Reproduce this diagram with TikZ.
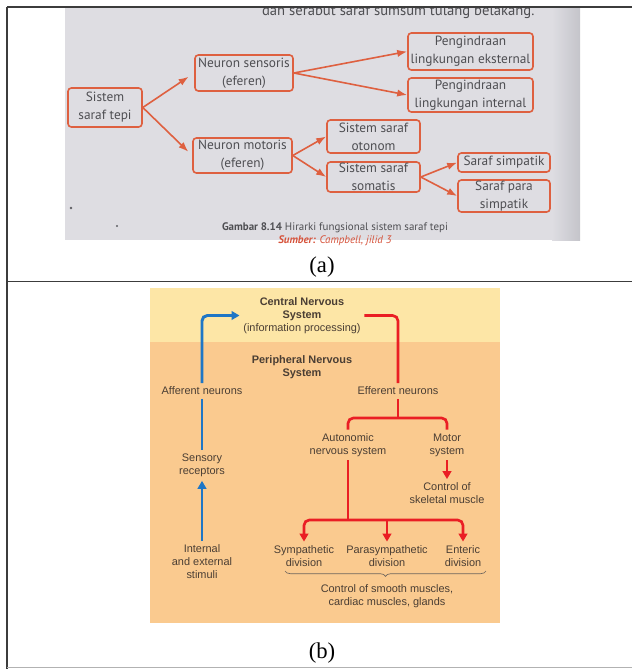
\documentclass[tikz,border=0pt]{standalone}
\usepackage{fontspec}
\setmainfont{Liberation Serif}
\newfontfamily\bookfont{PT Sans}
\newfontfamily\figfont{Liberation Sans}
\usetikzlibrary{arrows.meta,decorations.pathreplacing}

\definecolor{tableline}{RGB}{60,60,60}
\definecolor{bookgray}{RGB}{222,221,226}
\definecolor{bookedge}{RGB}{196,196,202}
\definecolor{bookdot}{RGB}{95,95,100}
\definecolor{booktext}{RGB}{78,78,82}
\definecolor{boxline}{RGB}{222,96,64}
\definecolor{bookred}{RGB}{214,82,58}
\definecolor{cnsyellow}{RGB}{253,230,166}
\definecolor{pnsorange}{RGB}{250,202,143}
\definecolor{figtext}{RGB}{74,62,52}
\definecolor{affblue}{RGB}{30,118,198}
\definecolor{effred}{RGB}{234,30,36}

\tikzset{every picture/.style={line width=0.75pt}}
\tikzset{
  bookbox/.style={draw=boxline, line width=1.2pt, rounded corners=2.5pt, align=center,
    font=\bookfont\fontsize{10}{13.5}\selectfont, text=booktext, inner sep=0pt},
  bookarrow/.style={draw=boxline, line width=1.2pt, -{Latex[length=7.5pt,width=5.5pt]}},
  figlabel/.style={align=center, font=\figfont\fontsize{8.2}{9.8}\selectfont, text=figtext, inner sep=2.5pt},
  blueline/.style={draw=affblue, line width=2.2pt, rounded corners=4pt},
  redline/.style={draw=effred, line width=2pt, rounded corners=4pt},
  figtip/.style={-{Triangle[length=6pt,width=6.5pt]}},
  panel/.style={font=\fontsize{17}{20}\selectfont, inner sep=0pt}
}

\begin{document}
\begin{tikzpicture}[x=0.75pt,y=0.75pt,yscale=-1,xscale=1]
\useasboundingbox (0,0) rectangle (632,669);

%Shape: Rectangle [photo of the book page]
\fill[bookgray] (65,8) rectangle (580,240);
\shade[left color=bookgray, right color=bookedge] (552,8) rectangle (580,240);
\fill[bookdot] (71,208) circle (1.3) (117,226) circle (1.1);

% Text Node
\begin{scope}
\clip (65,8) rectangle (580,240);
\node[anchor=base east, font=\bookfont\fontsize{11}{13}\selectfont, text=booktext, inner sep=0pt] (topline) at (535,15) {dan serabut saraf sumsum tulang belakang.};
\end{scope}

%Rounded Rect
\node[bookbox, minimum width=55.5pt, minimum height=29.25pt] (sst) at (105,107.5) {Sistem\\saraf tepi};
\node[bookbox, minimum width=73.5pt, minimum height=27pt] (ns) at (244,73) {Neuron sensoris\\(eferen)};
\node[bookbox, minimum width=93.75pt, minimum height=27.75pt] (pe) at (470.5,51.5) {Pengindraan\\lingkungan eksternal};
\node[bookbox, minimum width=93.75pt, minimum height=25.5pt] (pi) at (470.5,95) {Pengindraan\\lingkungan internal};
\node[bookbox, minimum width=74.25pt, minimum height=26.25pt] (nm) at (242.5,155.5) {Neuron motoris\\(eferen)};
\node[bookbox, minimum width=69.75pt, minimum height=24.75pt] (so) at (373.5,136.5) {Sistem saraf\\otonom};
\node[bookbox, minimum width=69.75pt, minimum height=22.5pt] (ss) at (373.5,177) {Sistem saraf\\somatis};
\node[bookbox, minimum width=69pt, minimum height=14.25pt] (sp) at (504,162.5) {Saraf simpatik};
\node[bookbox, minimum width=69pt, minimum height=24pt] (spp) at (504,196) {Saraf para\\simpatik};

%Straight Lines
\draw[bookarrow, shorten >=5pt] (sst.east) -- (ns.west);
\draw[bookarrow, shorten >=4pt] (sst.east) -- (nm.west);
\draw[bookarrow] (ns.east) -- (pe.west);
\draw[bookarrow] (ns.east) -- (pi.west);
\draw[bookarrow] (nm.east) -- (so.west);
\draw[bookarrow] (nm.east) -- (ss.west);
\draw[bookarrow] (ss.east) -- (sp.west);
\draw[bookarrow] (ss.east) -- (spp.west);

% Text Node
\node[font=\bookfont\fontsize{8.2}{10}\selectfont, text=booktext, inner sep=0pt] (capa) at (335,228) {\textbf{Gambar 8.14} Hirarki fungsional sistem saraf tepi};
\node[font=\bookfont\itshape\fontsize{8.2}{10}\selectfont, text=bookred, inner sep=0pt] (srca) at (335,241) {\textbf{Sumber:} Campbell, jilid 3};

%Shape: Rectangle [central and peripheral bands]
\fill[cnsyellow] (150,288) rectangle (500,342);
\fill[pnsorange] (150,342) rectangle (500,623);

% Text Node
\node[figlabel] (cns) at (302,315.5) {\textbf{Central Nervous}\\\textbf{System}\\(information processing)};
\node[figlabel] (pns) at (302,367) {\textbf{Peripheral Nervous}\\\textbf{System}};
\node[figlabel] (aff) at (202,391) {Afferent neurons};
\node[figlabel] (eff) at (398,391) {Efferent neurons};
\node[figlabel] (sens) at (202,465.5) {Sensory\\receptors};
\node[figlabel] (stim) at (202,562) {Internal\\and external\\stimuli};
\node[figlabel] (auto) at (348,445) {Autonomic\\nervous system};
\node[figlabel] (motor) at (447,445) {Motor\\system};
\node[figlabel] (skel) at (447,493.5) {Control of\\skeletal muscle};
\node[figlabel] (symp) at (304,556) {Sympathetic\\division};
\node[figlabel] (para) at (387,556) {Parasympathetic\\division};
\node[figlabel] (ent) at (463,556) {Enteric\\division};
\node[figlabel] (ctrl) at (387,596.5) {Control of smooth muscles,\\cardiac muscles, glands};

\coordinate (ejunc) at (397,418);
\coordinate (ajunc) at (348,520);
\coordinate (bracel) at (285,571);
\coordinate (bracer) at (486,571);

%Straight Lines
\draw[blueline, figtip] (aff.north) |- (cns.west);
\draw[blueline] (aff.south) -- (sens.north);
\draw[blueline, figtip] (stim.north) -- (sens.south);
\draw[redline] (cns.east) -| (eff.north);
\draw[redline] (eff.south) -- (eff.south |- ejunc);
\draw[redline] (auto.north) |- (ejunc) -| (motor.north);
\draw[redline, figtip] (motor.south) -- (skel.north);
\draw[redline] (auto.south) -- (ajunc);
\draw[redline, {Triangle[length=6pt,width=6.5pt]}-{Triangle[length=6pt,width=6.5pt]}] (symp.north) |- (ajunc) -| (ent.north);
\draw[redline, figtip] (para.north |- ajunc) -- (para.north);
\draw[figtext!80, line width=0.5pt, decorate, decoration={brace, mirror, amplitude=4pt}] (bracel) -- (bracer);

% Text Node
\node[panel] (laba) at (322,267) {(a)};
\node[panel] (labb) at (322,653) {(b)};

%Straight Lines [table rules]
\draw[tableline, line width=1.1pt] (7,7) -- (632,7);
\draw[tableline, line width=1.1pt] (7,7) -- (7,669);
\draw[tableline, line width=1.1pt] (7,281.5) -- (632,281.5);
\draw[black!30, line width=1.1pt] (7,667.5) -- (632,667.5);

\end{tikzpicture}
\end{document}
